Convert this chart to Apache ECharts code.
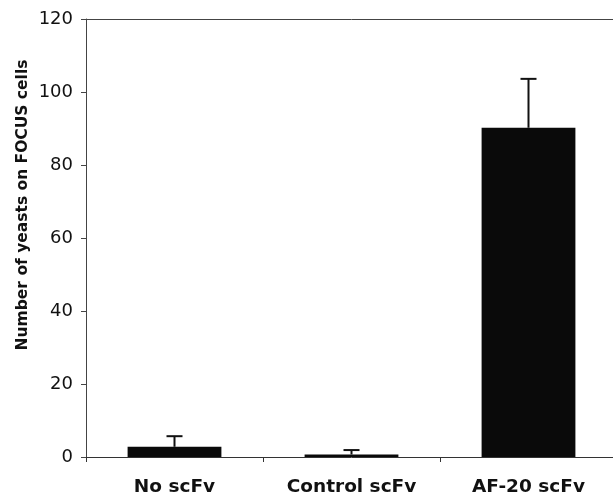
<!DOCTYPE html>
<html>
<head>
<meta charset="utf-8">
<script src="https://cdn.jsdelivr.net/npm/echarts@6/dist/echarts.min.js"></script>
<style>
  html, body { margin: 0; padding: 0; background: #fff; overflow: hidden; }
  #chart { width: 617px; height: 500px; }
</style>
</head>
<body>
<div id="chart"></div>
<script>
// Yeast binding counts per scFv treatment (mean and upper error)
const categories = ['No scFv', 'Control scFv', 'AF-20 scFv'];
const meanValues = [2.8, 0.7, 90.2];
const errorValues = [2.9, 1.2, 13.4];
const yTicks = [0, 20, 40, 60, 80, 100, 120];

const FONT = '"DejaVu Sans", "Liberation Sans", Arial, sans-serif';
const chart = echarts.init(document.getElementById('chart'));

const errorData = categories.map((c, i) => [i, meanValues[i], meanValues[i] + errorValues[i]]);

chart.setOption({
  animation: false,
  backgroundColor: '#fff',
  grid: { left: 86, right: 0, top: 19, bottom: 43 },
  xAxis: {
    type: 'category',
    data: categories,
    axisLine: { lineStyle: { color: '#333', width: 1 } },
    axisTick: { show: true, alignWithLabel: false, length: 5, lineStyle: { color: '#333' } },
    axisLabel: {
      color: '#111', fontFamily: FONT,
      fontWeight: 'bold', fontSize: 18.5, margin: 21
    }
  },
  yAxis: {
    type: 'value',
    min: yTicks[0],
    max: yTicks[yTicks.length - 1],
    interval: 20,
    axisLine: { show: true, lineStyle: { color: '#444', width: 1 } },
    axisTick: { show: true, length: 5, lineStyle: { color: '#444' } },
    splitLine: {
      show: true,
      lineStyle: { color: ['transparent', 'transparent', 'transparent', 'transparent', 'transparent', 'transparent', '#444'], width: 1 }
    },
    axisLabel: {
      color: '#111', fontFamily: FONT,
      fontSize: 18, margin: 13
    }
  },
  graphic: [{
    type: 'text',
    x: 23,
    y: 205,
    rotation: Math.PI / 2,
    style: {
      text: 'Number of yeasts on FOCUS cells',
      fill: '#111',
      align: 'center',
      verticalAlign: 'middle',
      font: 'bold 15.5px "DejaVu Sans", Arial, sans-serif'
    }
  }],
  series: [
    {
      type: 'bar',
      data: meanValues,
      barWidth: '53%',
      itemStyle: { color: '#0a0a0a' }
    },
    {
      type: 'custom',
      data: errorData,
      z: 3,
      renderItem: function (params, api) {
        const x = api.value(0);
        const base = api.coord([x, api.value(1)]);
        const top = api.coord([x, api.value(2)]);
        const half = 8;
        const style = { stroke: '#111', lineWidth: 2 };
        return {
          type: 'group',
          children: [
            { type: 'line', shape: { x1: base[0], y1: base[1], x2: top[0], y2: top[1] }, style: style },
            { type: 'line', shape: { x1: top[0] - half, y1: top[1], x2: top[0] + half, y2: top[1] }, style: style }
          ]
        };
      }
    }
  ]
});
</script>
</body>
</html>
